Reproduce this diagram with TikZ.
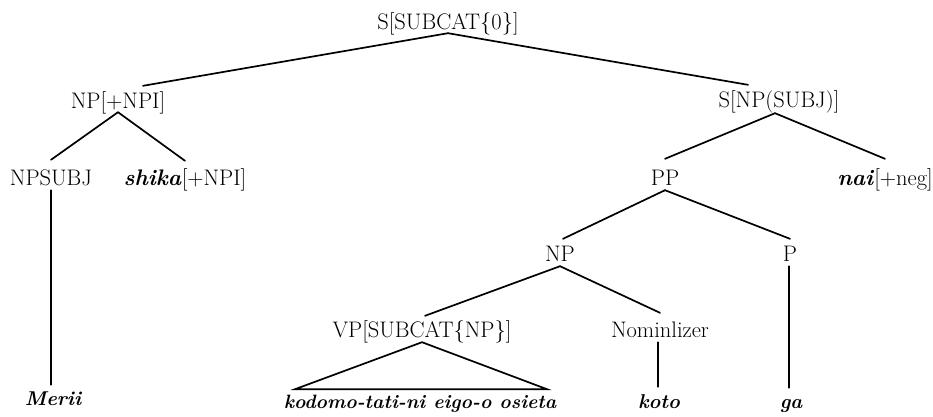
\documentclass[tikz,border=0pt]{standalone}
\usetikzlibrary{calc}
\begin{document}
\begin{tikzpicture}[x=1pt,y=-1pt,
  lab/.style={anchor=base,inner sep=0pt,text height=14pt,text depth=0pt,font=\fontsize{22.5}{26}\selectfont},
  word/.style={lab,font=\fontsize{20}{24}\selectfont\bfseries\itshape},
  edge/.style={line width=1.7pt,line cap=round}]
\useasboundingbox (0,0) rectangle (933,416);
% nodes
\node[lab] (s) at (448,29) {S[SUBCAT\{0\}]};
\node[lab] (npi) at (118,108) {NP[+NPI]};
\node[lab] (ssubj) at (779,107) {S[NP(SUBJ)]};
\node[lab] (npsubj) at (51,185) {NPSUBJ};
\node[lab] (shika) at (185,185) {\textbf{\textit{shika}}[+NPI]};
\node[lab] (pp) at (665,185) {PP};
\node[lab] (nai) at (885,185) {\textbf{\textit{nai}}[+neg]};
\node[lab] (np) at (560,261) {NP};
\node[lab] (p) at (790,261) {P};
\node[lab] (vp) at (422,337) {VP[SUBCAT\{NP\}]};
\node[lab] (nom) at (660,337) {Nominlizer};
\node[word] (merii) at (53,405) {Merii};
\node[word,font=\fontsize{19.3}{23}\selectfont\bfseries\itshape] (kodomo) at (420,408) {kodomo-tati-ni eigo-o osieta};
\node[word] (koto) at (659,408) {koto};
\node[word] (ga) at (791,408) {ga};
% connectors
\draw[edge] ($(s.south)+(0,4)$) -- ($(npi.north)+(25,-8)$);
\draw[edge] ($(s.south)+(0,4)$) -- ($(ssubj.north)+(-31,-8)$);
\draw[edge] ($(npi.south)+(0,4)$) -- ($(npsubj.north)+(0,-11)$);
\draw[edge] ($(npi.south)+(0,4)$) -- ($(shika.north)+(0,-10)$);
\draw[edge] ($(npsubj.south)+(0,5)$) -- ($(npsubj.south |- merii.north)+(0,-6)$);
\draw[edge] ($(ssubj.south)+(-4,6)$) -- ($(pp.north)+(0,-12)$);
\draw[edge] ($(ssubj.south)+(-4,6)$) -- ($(nai.north)+(0,-12)$);
\draw[edge] ($(pp.south)+(0,5)$) -- ($(np.north)+(3,-8)$);
\draw[edge] ($(pp.south)+(0,5)$) -- ($(p.north)+(0,-8)$);
\draw[edge] ($(np.south)+(0,5)$) -- ($(vp.north)+(3,-7)$);
\draw[edge] ($(np.south)+(0,5)$) -- ($(nom.north)+(0,-10)$);
\draw[edge] ($(vp.south)+(0,5)$) -- ($(vp.south)+(-127,52)$) -- ($(vp.south)+(125,52)$) -- cycle;
\draw[edge] ($(nom.south)+(-2,5)$) -- ($(nom.south |- koto.north)+(-2,-7)$);
\draw[edge] ($(p.south)+(-1,5)$) -- ($(p.south |- ga.north)+(-1,-6)$);
\end{tikzpicture}
\end{document}
